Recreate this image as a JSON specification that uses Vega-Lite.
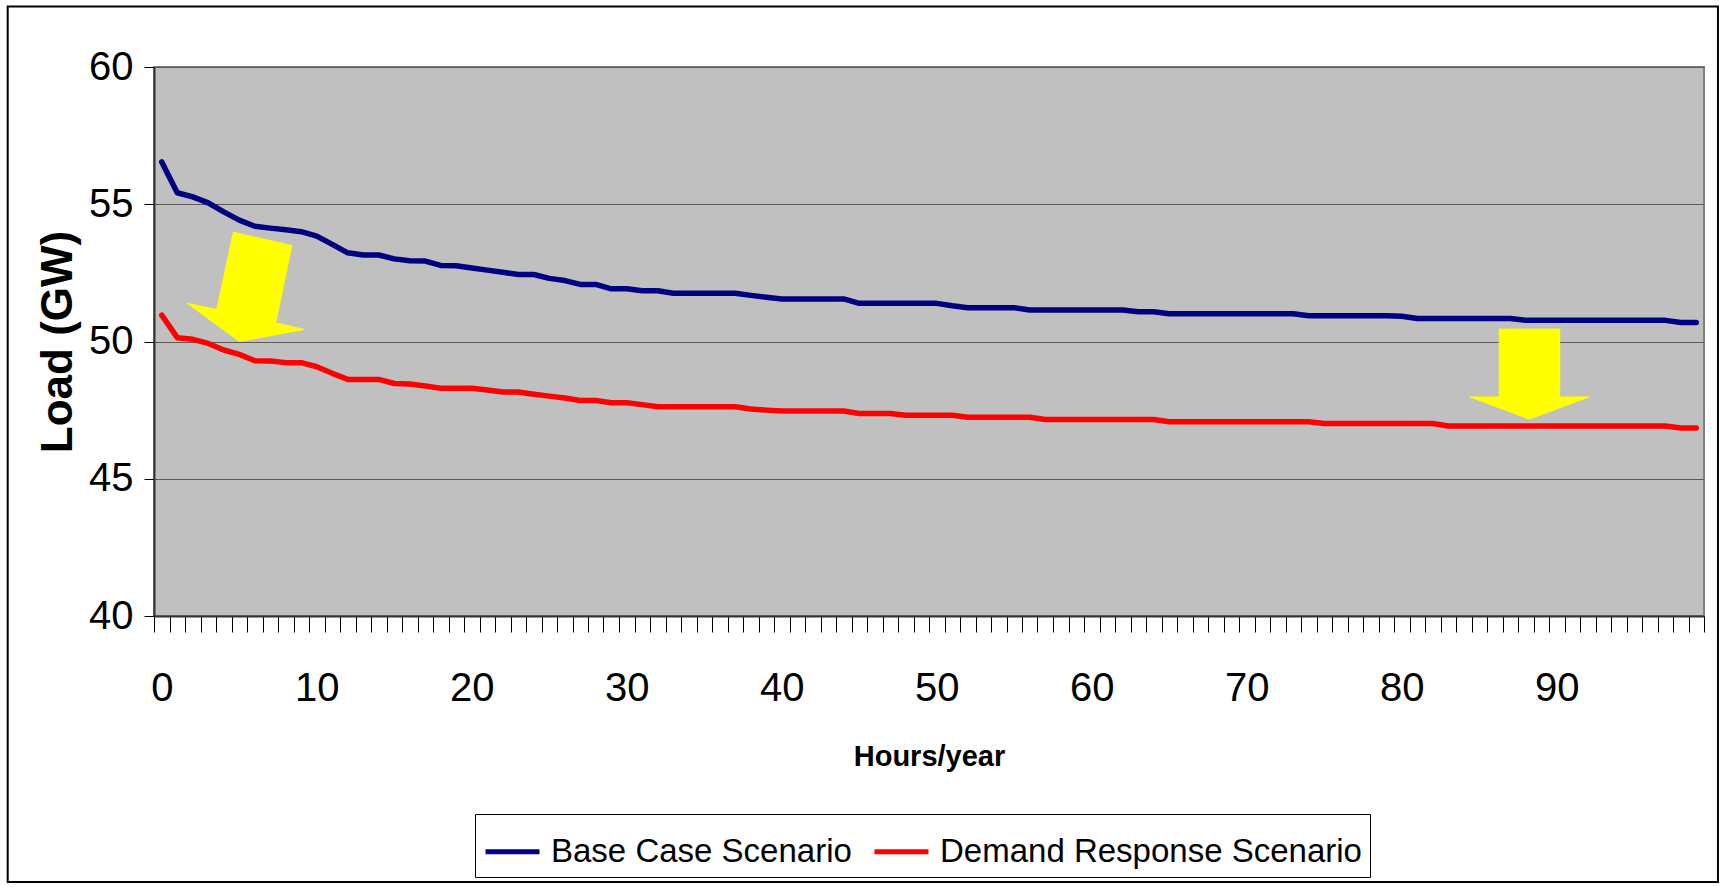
{
  "$schema": "https://vega.github.io/schema/vega-lite/v6.json",
  "width": 1550,
  "height": 549,
  "autosize": {"type": "none"},
  "padding": {"left": 154, "top": 67, "right": 20, "bottom": 271},
  "background": "#FFFFFF",
  "config": {
    "view": {"fill": "#C0C0C0", "stroke": "#808080", "strokeWidth": 2},
    "font": "Liberation Sans"
  },
  "datasets": {
    "curves": [
      {"hour": 0, "base": 56.54, "demand": 50.96},
      {"hour": 1, "base": 55.42, "demand": 50.14},
      {"hour": 2, "base": 55.27, "demand": 50.08},
      {"hour": 3, "base": 55.05, "demand": 49.93},
      {"hour": 4, "base": 54.72, "demand": 49.69},
      {"hour": 5, "base": 54.42, "demand": 49.53},
      {"hour": 6, "base": 54.2, "demand": 49.3},
      {"hour": 7, "base": 54.13, "demand": 49.29},
      {"hour": 8, "base": 54.07, "demand": 49.23},
      {"hour": 9, "base": 54.0, "demand": 49.23},
      {"hour": 10, "base": 53.84, "demand": 49.08},
      {"hour": 11, "base": 53.54, "demand": 48.84},
      {"hour": 12, "base": 53.23, "demand": 48.62},
      {"hour": 13, "base": 53.15, "demand": 48.62},
      {"hour": 14, "base": 53.15, "demand": 48.62},
      {"hour": 15, "base": 53.01, "demand": 48.47},
      {"hour": 16, "base": 52.94, "demand": 48.45},
      {"hour": 17, "base": 52.93, "demand": 48.38},
      {"hour": 18, "base": 52.77, "demand": 48.3},
      {"hour": 19, "base": 52.76, "demand": 48.3},
      {"hour": 20, "base": 52.68, "demand": 48.3},
      {"hour": 21, "base": 52.6, "demand": 48.23},
      {"hour": 22, "base": 52.52, "demand": 48.16},
      {"hour": 23, "base": 52.44, "demand": 48.16},
      {"hour": 24, "base": 52.44, "demand": 48.08},
      {"hour": 25, "base": 52.3, "demand": 48.01},
      {"hour": 26, "base": 52.22, "demand": 47.94},
      {"hour": 27, "base": 52.08, "demand": 47.85},
      {"hour": 28, "base": 52.08, "demand": 47.85},
      {"hour": 29, "base": 51.92, "demand": 47.77},
      {"hour": 30, "base": 51.92, "demand": 47.77},
      {"hour": 31, "base": 51.85, "demand": 47.7},
      {"hour": 32, "base": 51.85, "demand": 47.62},
      {"hour": 33, "base": 51.76, "demand": 47.62},
      {"hour": 34, "base": 51.76, "demand": 47.62},
      {"hour": 35, "base": 51.76, "demand": 47.62},
      {"hour": 36, "base": 51.76, "demand": 47.62},
      {"hour": 37, "base": 51.76, "demand": 47.62},
      {"hour": 38, "base": 51.68, "demand": 47.54},
      {"hour": 39, "base": 51.61, "demand": 47.5},
      {"hour": 40, "base": 51.55, "demand": 47.47},
      {"hour": 41, "base": 51.55, "demand": 47.47},
      {"hour": 42, "base": 51.55, "demand": 47.47},
      {"hour": 43, "base": 51.55, "demand": 47.47},
      {"hour": 44, "base": 51.55, "demand": 47.47},
      {"hour": 45, "base": 51.39, "demand": 47.38},
      {"hour": 46, "base": 51.39, "demand": 47.38},
      {"hour": 47, "base": 51.39, "demand": 47.38},
      {"hour": 48, "base": 51.39, "demand": 47.31},
      {"hour": 49, "base": 51.39, "demand": 47.31},
      {"hour": 50, "base": 51.39, "demand": 47.31},
      {"hour": 51, "base": 51.3, "demand": 47.31},
      {"hour": 52, "base": 51.23, "demand": 47.24},
      {"hour": 53, "base": 51.23, "demand": 47.24},
      {"hour": 54, "base": 51.23, "demand": 47.24},
      {"hour": 55, "base": 51.23, "demand": 47.24},
      {"hour": 56, "base": 51.15, "demand": 47.24},
      {"hour": 57, "base": 51.15, "demand": 47.16},
      {"hour": 58, "base": 51.15, "demand": 47.16},
      {"hour": 59, "base": 51.15, "demand": 47.16},
      {"hour": 60, "base": 51.15, "demand": 47.16},
      {"hour": 61, "base": 51.15, "demand": 47.16},
      {"hour": 62, "base": 51.15, "demand": 47.16},
      {"hour": 63, "base": 51.08, "demand": 47.16},
      {"hour": 64, "base": 51.08, "demand": 47.16},
      {"hour": 65, "base": 51.01, "demand": 47.08},
      {"hour": 66, "base": 51.01, "demand": 47.08},
      {"hour": 67, "base": 51.01, "demand": 47.08},
      {"hour": 68, "base": 51.01, "demand": 47.08},
      {"hour": 69, "base": 51.01, "demand": 47.08},
      {"hour": 70, "base": 51.01, "demand": 47.08},
      {"hour": 71, "base": 51.01, "demand": 47.08},
      {"hour": 72, "base": 51.01, "demand": 47.08},
      {"hour": 73, "base": 51.01, "demand": 47.08},
      {"hour": 74, "base": 50.94, "demand": 47.08},
      {"hour": 75, "base": 50.94, "demand": 47.01},
      {"hour": 76, "base": 50.94, "demand": 47.01},
      {"hour": 77, "base": 50.94, "demand": 47.01},
      {"hour": 78, "base": 50.94, "demand": 47.01},
      {"hour": 79, "base": 50.94, "demand": 47.01},
      {"hour": 80, "base": 50.92, "demand": 47.01},
      {"hour": 81, "base": 50.84, "demand": 47.01},
      {"hour": 82, "base": 50.84, "demand": 47.01},
      {"hour": 83, "base": 50.84, "demand": 46.92},
      {"hour": 84, "base": 50.84, "demand": 46.92},
      {"hour": 85, "base": 50.84, "demand": 46.92},
      {"hour": 86, "base": 50.84, "demand": 46.92},
      {"hour": 87, "base": 50.84, "demand": 46.92},
      {"hour": 88, "base": 50.77, "demand": 46.92},
      {"hour": 89, "base": 50.77, "demand": 46.92},
      {"hour": 90, "base": 50.77, "demand": 46.92},
      {"hour": 91, "base": 50.77, "demand": 46.92},
      {"hour": 92, "base": 50.77, "demand": 46.92},
      {"hour": 93, "base": 50.77, "demand": 46.92},
      {"hour": 94, "base": 50.77, "demand": 46.92},
      {"hour": 95, "base": 50.77, "demand": 46.92},
      {"hour": 96, "base": 50.77, "demand": 46.92},
      {"hour": 97, "base": 50.77, "demand": 46.92},
      {"hour": 98, "base": 50.69, "demand": 46.85},
      {"hour": 99, "base": 50.69, "demand": 46.85}
    ],
    "arrows": [
      {"arrow": "early", "i": 1, "hour": 4.62, "load": 53.98},
      {"arrow": "early", "i": 2, "hour": 8.4, "load": 53.5},
      {"arrow": "early", "i": 3, "hour": 7.35, "load": 50.68},
      {"arrow": "early", "i": 4, "hour": 9.18, "load": 50.44},
      {"arrow": "early", "i": 5, "hour": 5.0, "load": 50.0},
      {"arrow": "early", "i": 6, "hour": 1.65, "load": 51.39},
      {"arrow": "early", "i": 7, "hour": 3.55, "load": 51.17},
      {"arrow": "late", "i": 1, "hour": 86.29, "load": 50.45},
      {"arrow": "late", "i": 2, "hour": 90.19, "load": 50.45},
      {"arrow": "late", "i": 3, "hour": 90.19, "load": 47.98},
      {"arrow": "late", "i": 4, "hour": 92.08, "load": 47.98},
      {"arrow": "late", "i": 5, "hour": 88.23, "load": 47.17},
      {"arrow": "late", "i": 6, "hour": 84.4, "load": 47.98},
      {"arrow": "late", "i": 7, "hour": 86.29, "load": 47.98}
    ]
  },
  "layer": [
    {
      "data": {"values": [{}]},
      "mark": {"type": "rect", "fill": "transparent", "stroke": "#000000", "strokeWidth": 2},
      "encoding": {
        "x": {
          "datum": -9.94,
          "type": "quantitative",
          "scale": {"domain": [-0.5, 99.5], "nice": false, "zero": false},
          "axis": {
            "orient": "bottom",
            "values": [-0.5, 0.5, 1.5, 2.5, 3.5, 4.5, 5.5, 6.5, 7.5, 8.5, 9.5, 10.5, 11.5, 12.5, 13.5, 14.5, 15.5, 16.5, 17.5, 18.5, 19.5, 20.5, 21.5, 22.5, 23.5, 24.5, 25.5, 26.5, 27.5, 28.5, 29.5, 30.5, 31.5, 32.5, 33.5, 34.5, 35.5, 36.5, 37.5, 38.5, 39.5, 40.5, 41.5, 42.5, 43.5, 44.5, 45.5, 46.5, 47.5, 48.5, 49.5, 50.5, 51.5, 52.5, 53.5, 54.5, 55.5, 56.5, 57.5, 58.5, 59.5, 60.5, 61.5, 62.5, 63.5, 64.5, 65.5, 66.5, 67.5, 68.5, 69.5, 70.5, 71.5, 72.5, 73.5, 74.5, 75.5, 76.5, 77.5, 78.5, 79.5, 80.5, 81.5, 82.5, 83.5, 84.5, 85.5, 86.5, 87.5, 88.5, 89.5, 90.5, 91.5, 92.5, 93.5, 94.5, 95.5, 96.5, 97.5, 98.5, 99.5],
            "labels": false,
            "ticks": true,
            "tickSize": 16,
            "tickColor": "#000000",
            "tickWidth": 1,
            "domain": true,
            "domainColor": "#333333",
            "domainWidth": 2,
            "grid": false,
            "title": null
          }
        },
        "x2": {"datum": 100.4},
        "y": {
          "datum": 62.2,
          "type": "quantitative",
          "scale": {"domain": [40, 60], "nice": false, "zero": false}
        },
        "y2": {"datum": 30.31}
      }
    },
    {
      "data": {"name": "curves"},
      "transform": [{"fold": ["base", "demand"], "as": ["scenario", "load"]}],
      "mark": {"type": "line", "strokeWidth": 5.5, "strokeCap": "round", "strokeJoin": "round"},
      "encoding": {
        "x": {
          "field": "hour",
          "type": "quantitative",
          "scale": {"domain": [-0.5, 99.5], "nice": false, "zero": false},
          "axis": {
            "orient": "bottom",
            "values": [0, 10, 20, 30, 40, 50, 60, 70, 80, 90],
            "ticks": false,
            "tickSize": 0,
            "domain": false,
            "grid": false,
            "labelFontSize": 40,
            "labelPadding": 52,
            "labelDx": 3,
            "labelColor": "#000000",
            "labelFlush": false,
            "title": "Hours/year",
            "titleFontSize": 29,
            "titleFontWeight": "bold",
            "titleColor": "#000000",
            "titlePadding": 34
          }
        },
        "y": {
          "field": "load",
          "type": "quantitative",
          "scale": {"domain": [40, 60], "nice": false, "zero": false},
          "axis": {
            "values": [40, 45, 50, 55, 60],
            "grid": true,
            "gridColor": "#5a5a5a",
            "gridWidth": 1,
            "tickSize": 10,
            "tickColor": "#000000",
            "domainColor": "#333333",
            "domainWidth": 2,
            "labelFontSize": 40,
            "labelPadding": 11,
            "labelColor": "#000000",
            "title": "Load (GW)",
            "titleFontSize": 44,
            "titleFontWeight": "bold",
            "titleColor": "#000000",
            "titlePadding": 8
          }
        },
        "color": {
          "field": "scenario",
          "type": "nominal",
          "scale": {"domain": ["base", "demand"], "range": ["#000080", "#FF0000"]},
          "legend": {
            "orient": "none",
            "legendX": 321,
            "legendY": 747,
            "direction": "horizontal",
            "title": null,
            "symbolType": "stroke",
            "symbolSize": 2916,
            "symbolStrokeWidth": 5,
            "labelFontSize": 33,
            "labelColor": "#000000",
            "labelOffset": 9,
            "labelLimit": 1000,
            "columnPadding": 12,
            "padding": 8,
            "strokeColor": "#000000",
            "fillColor": "#FFFFFF",
            "labelExpr": "datum.value == 'base' ? 'Base Case Scenario' : 'Demand Response Scenario'"
          }
        }
      }
    },
    {
      "data": {"name": "arrows"},
      "mark": {"type": "line", "interpolate": "linear-closed", "fill": "#FFFF00", "stroke": "#FFFF00", "strokeWidth": 1},
      "encoding": {
        "x": {"field": "hour", "type": "quantitative", "axis": null},
        "y": {"field": "load", "type": "quantitative"},
        "detail": {"field": "arrow"},
        "order": {"field": "i"}
      }
    }
  ],
  "resolve": {"axis": {"x": "independent"}}
}
